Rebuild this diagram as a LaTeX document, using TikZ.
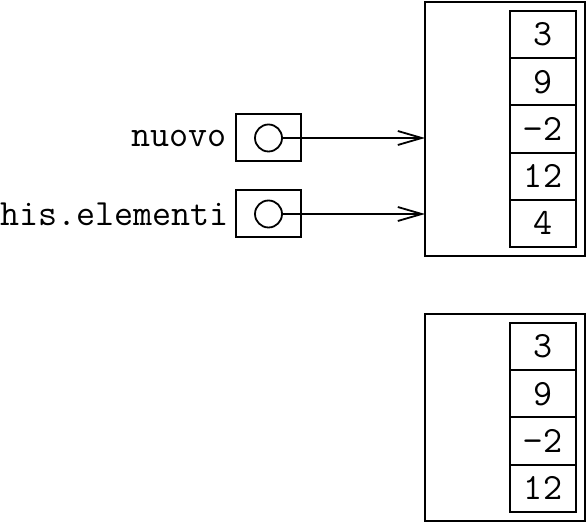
\documentclass[tikz,border=0pt]{standalone}
\usepackage{fontspec}
\usetikzlibrary{arrows.meta, positioning}

\begin{document}
\begin{tikzpicture}[x=0.5pt, y=0.5pt, font=\ttfamily\fontsize{18.5}{22}\selectfont,
    cella/.style={draw, line width=1pt, minimum width=33pt, minimum height=23.6pt, inner sep=0pt, outer sep=0pt},
    oggetto/.style={draw, line width=1pt, minimum width=80pt, inner sep=0pt, outer sep=0pt},
    rif/.style={draw, line width=1pt, minimum width=32.5pt, minimum height=23.5pt, inner sep=0pt, outer sep=0pt},
    pallino/.style={draw, circle, line width=0.9pt, minimum size=13.5pt, inner sep=0pt},
    freccia/.style={line width=0.9pt, -{Straight Barb[length=12pt, width=7pt]}}]
    \useasboundingbox (0,0) rectangle (588,524);

    % primo array
    \node[oggetto, minimum height=127pt] (array1) at (505,395) {};
    \node[cella] (a1) at (543,489.4) {3};
    \foreach \v [count=\i from 2, evaluate=\i as \p using int(\i-1)] in {9,−2,12,4}
        \node[cella, below=0pt of a\p] (a\i) {\v};

    % secondo array
    \node[oggetto, minimum height=103.5pt] (array2) at (505,106.5) {};
    \node[cella] (b1) at (543,177.4) {3};
    \foreach \v [count=\i from 2, evaluate=\i as \p using int(\i-1)] in {9,−2,12}
        \node[cella, below=0pt of b\p] (b\i) {\v};

    % riferimenti
    \node[rif] (nuovo) at (268.5,386) {};
    \node[pallino] (c1) at (nuovo) {};
    \node[left=1pt of nuovo] {nuovo};
    \node[rif] (elementi) at (268.5,310) {};
    \node[pallino] (c2) at (elementi) {};
    \node[left=0pt of elementi] {this.elementi};

    \draw[freccia] (c1.east) -- (c1 -| array1.west);
    \draw[freccia] (c2.east) -- (c2 -| array1.west);
\end{tikzpicture}
\end{document}
